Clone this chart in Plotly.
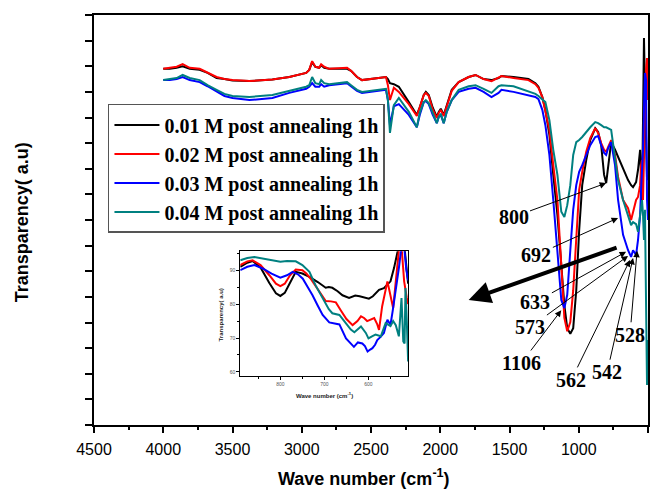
import plotly.graph_objects as go

# ---------------- main FTIR spectra ----------------
wavenumber = [4000, 3953, 3903, 3860, 3809, 3737, 3680, 3615, 3558, 3500, 3378, 3212, 3090, 2968, 2946,
              2925, 2902, 2874, 2860, 2838, 2802, 2673, 2644, 2601, 2565, 2443, 2392, 2378, 2363, 2335,
              2299, 2227, 2169, 2148, 2119, 2104, 2083, 2054, 2025, 2011, 1996, 1975, 1953, 1917, 1867,
              1795, 1745, 1687, 1630, 1579, 1558, 1471, 1363, 1313, 1291, 1263, 1241, 1212, 1184, 1154,
              1126, 1104, 1083, 1061, 1040, 1018, 997, 975, 946, 917, 881, 860, 838, 817, 802,
              788, 766, 738, 716, 680, 644, 622, 608, 586, 572, 557, 550, 543, 536, 529,
              522, 514, 507, 500]

t_001 = [69.5, 69.5, 69.7, 70.0, 69.5, 69.3, 68.7, 67.7, 67.5, 67.2, 67.1, 67.4, 67.9, 68.7, 69.3,
         70.8, 69.9, 69.7, 70.2, 69.7, 69.5, 69.5, 69.1, 67.9, 67.3, 67.7, 67.9, 67.5, 66.7, 66.5,
         66.0, 63.0, 60.5, 62.0, 64.4, 65.0, 64.4, 61.9, 60.1, 61.1, 61.7, 60.5, 62.4, 65.4, 66.9,
         67.9, 68.3, 67.5, 67.3, 67.7, 68.1, 67.9, 67.5, 66.7, 66.0, 64.0, 61.5, 56.6, 48.8, 41.0,
         31.2, 23.4, 18.9, 17.8, 18.9, 26.3, 38.0, 46.8, 51.7, 55.6, 57.9, 57.2, 54.6, 48.8, 47.2,
         50.7, 55.2, 53.7, 52.3, 50.1, 47.8, 46.8, 46.4, 47.4, 49.8, 53.7, 48.8, 43.9, 59.5, 75.5,
         65.4, 51.7, 47.8, 48.8]

t_002 = [69.5, 69.7, 69.9, 70.4, 69.7, 69.5, 68.7, 67.9, 67.5, 67.3, 67.1, 67.4, 67.9, 68.7, 69.3,
         71.0, 69.9, 69.7, 70.4, 69.9, 69.5, 69.7, 69.1, 67.9, 67.3, 67.7, 67.9, 66.3, 63.4, 65.8,
         65.0, 62.6, 60.3, 62.0, 64.4, 64.8, 64.2, 61.5, 59.9, 60.9, 61.5, 60.3, 62.2, 65.2, 66.9,
         67.9, 68.3, 67.5, 67.1, 67.7, 68.1, 67.7, 67.3, 66.5, 65.8, 64.0, 61.5, 57.6, 50.7, 43.9,
         31.2, 20.9, 18.3, 20.1, 26.3, 36.1, 45.9, 49.4, 53.3, 56.0, 57.9, 57.0, 55.0, 53.7, 53.3,
         54.2, 55.6, 52.7, 48.4, 43.9, 42.3, 40.0, 41.4, 43.9, 44.5, 46.8, 50.7, 51.7, 43.9, 53.7,
         63.4, 69.3, 71.6, 63.4]

t_003 = [67.3, 67.3, 67.5, 67.9, 67.3, 66.9, 66.1, 65.0, 64.2, 63.8, 63.4, 63.8, 64.8, 65.6, 66.0,
         66.7, 66.0, 66.0, 66.5, 66.0, 66.3, 66.7, 66.1, 65.2, 64.8, 65.2, 65.4, 63.4, 58.5, 62.2,
         62.6, 60.5, 58.1, 60.5, 63.0, 63.2, 62.6, 60.5, 58.9, 60.1, 60.5, 58.9, 61.1, 63.4, 65.0,
         65.6, 65.8, 65.0, 64.0, 64.8, 65.4, 65.0, 64.4, 64.0, 63.6, 61.5, 58.5, 52.7, 43.9, 33.2,
         24.4, 22.8, 25.4, 34.1, 42.0, 46.8, 49.4, 50.7, 52.7, 54.6, 56.2, 56.4, 54.6, 53.1, 52.7,
         54.0, 55.2, 50.7, 43.9, 37.1, 34.1, 32.8, 34.1, 33.2, 36.1, 41.0, 45.9, 49.8, 53.7, 61.5,
         68.7, 67.3, 43.9, 40.0]

t_004 = [67.3, 67.5, 67.7, 68.3, 67.7, 67.3, 66.3, 65.4, 64.6, 64.2, 64.0, 64.4, 65.2, 66.0, 66.3,
         67.9, 66.7, 66.5, 67.3, 66.7, 66.5, 66.9, 66.3, 65.4, 65.0, 65.4, 65.6, 63.4, 57.0, 62.4,
         63.8, 61.1, 58.1, 60.9, 63.0, 63.4, 62.8, 60.9, 58.9, 60.1, 60.7, 58.9, 61.1, 63.4, 65.4,
         66.1, 66.3, 65.6, 64.8, 66.1, 66.3, 66.1, 65.0, 64.6, 64.2, 63.6, 63.0, 59.5, 53.7, 48.8,
         41.6, 40.6, 42.9, 46.8, 52.7, 55.2, 55.6, 56.2, 57.2, 58.1, 59.1, 58.9, 58.5, 58.1, 58.1,
         57.9, 57.6, 52.1, 47.8, 43.9, 41.0, 39.0, 39.6, 39.2, 37.7, 41.0, 42.9, 43.9, 41.0, 36.1,
         42.0, 24.4, 7.8, 16.6]

series_names = ["0.01 M post annealing 1h", "0.02 M post annealing 1h",
                "0.03 M post annealing 1h", "0.04 M post annealing 1h"]
series_colors = ["#000000", "#ff0000", "#0000ff", "#008080"]

# ---------------- inset (zoom 891-510 cm-1) ----------------
in_wn_001 = [891, 875, 863, 845, 825, 810, 800, 790, 778, 765, 750, 734, 715, 697, 690, 682, 670, 659,
             644, 630, 620, 610, 599, 590, 576, 565, 550, 542, 535, 528, 520, 513, 510]
in_t_001 = [91.0, 92.2, 92.7, 90.8, 86.2, 83.2, 82.4, 83.3, 86.3, 89.5, 89.0, 88.0, 86.5, 84.8, 85.0,
            84.8, 83.8, 82.6, 81.8, 82.5, 82.3, 82.0, 81.6, 82.3, 84.2, 84.7, 86.7, 90.6, 95.5, 99.0,
            99.0, 90.0, 86.0]

in_wn_002 = [891, 875, 863, 845, 825, 810, 800, 790, 778, 765, 750, 741, 730, 719, 708, 697, 685, 674,
             663, 650, 636, 625, 617, 610, 603, 595, 587, 580, 576, 569, 562, 557, 552, 544, 538, 531,
             525, 519, 513, 510]
in_t_002 = [91.5, 92.6, 92.9, 91.5, 88.5, 86.0, 85.3, 86.0, 88.5, 90.2, 90.0, 89.0, 87.3, 85.1, 83.0,
            80.9, 80.8, 80.5, 78.2, 75.6, 73.8, 75.0, 76.4, 75.9, 75.0, 75.5, 75.9, 74.0, 72.4, 79.3,
            84.0, 86.7, 83.7, 78.8, 86.7, 95.8, 97.0, 86.7, 81.8, 80.0]

in_wn_003 = [891, 875, 859, 840, 820, 800, 785, 772, 760, 749, 738, 727, 715, 704, 689, 677, 666, 651,
             640, 633, 624, 614, 608, 602, 596, 591, 585, 580, 572, 565, 557, 550, 545, 538, 531, 525,
             519, 514, 510]
in_t_003 = [90.0, 91.0, 91.5, 90.5, 89.0, 87.8, 88.5, 89.5, 88.8, 87.5, 85.0, 82.6, 79.5, 76.8, 74.6,
            74.3, 74.0, 69.9, 68.3, 67.4, 68.7, 68.4, 67.6, 66.0, 66.6, 67.0, 68.0, 69.4, 70.4, 71.5,
            75.4, 73.9, 78.0, 83.7, 90.6, 97.0, 97.0, 90.0, 87.0]

in_wn_004 = [891, 875, 859, 840, 820, 800, 785, 765, 750, 734, 720, 704, 690, 682, 666, 651, 640, 632,
             617, 606, 600, 592, 584, 572, 561, 550, 544, 538, 531, 525, 521, 518, 516, 513, 510]
in_t_004 = [92.9, 93.6, 93.9, 93.4, 92.8, 92.5, 92.7, 92.6, 91.5, 89.5, 85.5, 81.7, 78.5, 77.3, 76.8,
            74.3, 72.5, 71.7, 73.4, 71.5, 69.9, 70.5, 71.0, 70.5, 74.4, 73.5, 75.0, 73.8, 70.5, 81.8,
            69.0, 68.4, 84.7, 75.0, 63.1]

# peak labels
peak_labels = ["800", "692", "633", "573", "1106", "562", "542", "528"]

# ------------------------------------------------------------
fig = go.Figure()
main_series = [t_001, t_002, t_003, t_004]
for name, ys, col in zip(series_names, main_series, series_colors):
    fig.add_trace(go.Scatter(x=wavenumber, y=ys, mode="lines", name=name, legendgroup=name,
                             line=dict(color=col, width=2)))

inset_series = [(in_wn_001, in_t_001), (in_wn_002, in_t_002), (in_wn_003, in_t_003), (in_wn_004, in_t_004)]
for (xs, ys), col in zip(inset_series, series_colors):
    fig.add_trace(go.Scatter(x=xs, y=ys, mode="lines", xaxis="x2", yaxis="y2", showlegend=False,
                             line=dict(color=col, width=2)))

serif = "Times New Roman, Liberation Serif, serif"
sans = "Arial, Liberation Sans, sans-serif"

# label text position (ax, ay) and arrow tip (x, y) in data units
label_pos = [
    (1471, 40.6, 802, 47.2),
    (1306, 33.2, 716, 40.4),
    (1313, 24.0, 658, 33.8),
    (1349, 19.1, 644, 33.0),
    (1414, 12.1, 1126, 22.4),
    (1054, 8.8, 630, 32.2),
    (795, 10.3, 608, 32.6),
    (630, 17.6, 579, 34.0),
]
annotations = []
for txt, (ax, ay, x, y) in zip(peak_labels, label_pos):
    annotations.append(dict(text=txt, x=x, y=y, ax=ax, ay=ay, xref="x", yref="y", axref="x", ayref="y",
                            showarrow=True, arrowhead=2, arrowsize=1.3, arrowwidth=1, arrowcolor="black",
                            font=dict(family=serif, size=20, color="black", weight="bold")))
# big thick arrow
annotations.append(dict(text="", x=1795, y=24.4, ax=716, ay=34.7, xref="x", yref="y", axref="x", ayref="y",
                        showarrow=True, arrowhead=2, arrowsize=1.1, arrowwidth=4, arrowcolor="black"))
# axis titles
annotations.append(dict(text="Wave number (cm<sup>-1</sup>)", x=0.487, y=-0.129, xref="paper", yref="paper",
                        xanchor="center", yanchor="middle", showarrow=False,
                        font=dict(family=sans, size=18, color="black", weight="bold")))
annotations.append(dict(text="Transparency( a.u)", x=-0.1295, y=0.495, xref="paper", yref="paper",
                        xanchor="center", yanchor="middle", textangle=-90, showarrow=False,
                        font=dict(family=sans, size=18, color="black", weight="bold")))
annotations.append(dict(text="Wave number (cm<sup>-1</sup>)", x=0.4155, y=0.073, xref="paper", yref="paper",
                        xanchor="center", yanchor="middle", showarrow=False,
                        font=dict(family=sans, size=6, color="#222", weight="bold")))
annotations.append(dict(text="Transparency( a.u)", x=0.230, y=0.268, xref="paper", yref="paper",
                        xanchor="center", yanchor="middle", textangle=-90, showarrow=False,
                        font=dict(family=sans, size=6, color="#222", weight="bold")))

fig.update_layout(
    width=661, height=490,
    margin=dict(l=94, r=11, t=15, b=65),
    paper_bgcolor="white", plot_bgcolor="white",
    xaxis=dict(range=[4500, 500], dtick=500, tick0=500, ticks="outside", ticklen=6, tickwidth=2,
               tickcolor="black", showline=True, linewidth=2, linecolor="black", mirror=True,
               showgrid=False, zeroline=False, ticklabelstandoff=3,
               tickfont=dict(family=sans, size=16, color="black"),
               minor=dict(dtick=250, tick0=500, ticks="outside", ticklen=3, tickwidth=2,
                          tickcolor="black", showgrid=False)),
    yaxis=dict(range=[0, 80], dtick=5, tick0=0, ticks="outside", ticklen=7, tickwidth=2,
               tickcolor="black", showticklabels=False, showline=True, linewidth=2,
               linecolor="black", mirror=True, showgrid=False, zeroline=False),
    xaxis2=dict(domain=[0.264, 0.567], anchor="y2", range=[891, 510], dtick=100, tick0=0,
                ticks="outside", ticklen=3, tickwidth=1, tickcolor="black", showline=True,
                linewidth=1, linecolor="black", mirror=True, showgrid=False, zeroline=False,
                tickfont=dict(family=sans, size=5, color="#555"),
                minor=dict(dtick=50, tick0=0, ticks="outside", ticklen=2, tickwidth=1,
                           tickcolor="black", showgrid=False)),
    yaxis2=dict(domain=[0.1195, 0.424], anchor="x2", range=[58.8, 95.6], dtick=10, tick0=0,
                ticks="outside", ticklen=3, tickwidth=1, tickcolor="black", showline=True,
                linewidth=1, linecolor="black", mirror=True, showgrid=False, zeroline=False,
                tickfont=dict(family=sans, size=5, color="#555"),
                minor=dict(dtick=5, tick0=0, ticks="outside", ticklen=2, tickwidth=1,
                           tickcolor="black", showgrid=False)),
    legend=dict(x=0.0252, y=0.783, xanchor="left", yanchor="top", bordercolor="#555",
                borderwidth=1.5, bgcolor="white", tracegroupgap=0, itemwidth=45,
                font=dict(family=serif, size=20, color="black", weight="bold")),
    annotations=annotations,
    showlegend=True,
)

fig.write_html("out.html")
